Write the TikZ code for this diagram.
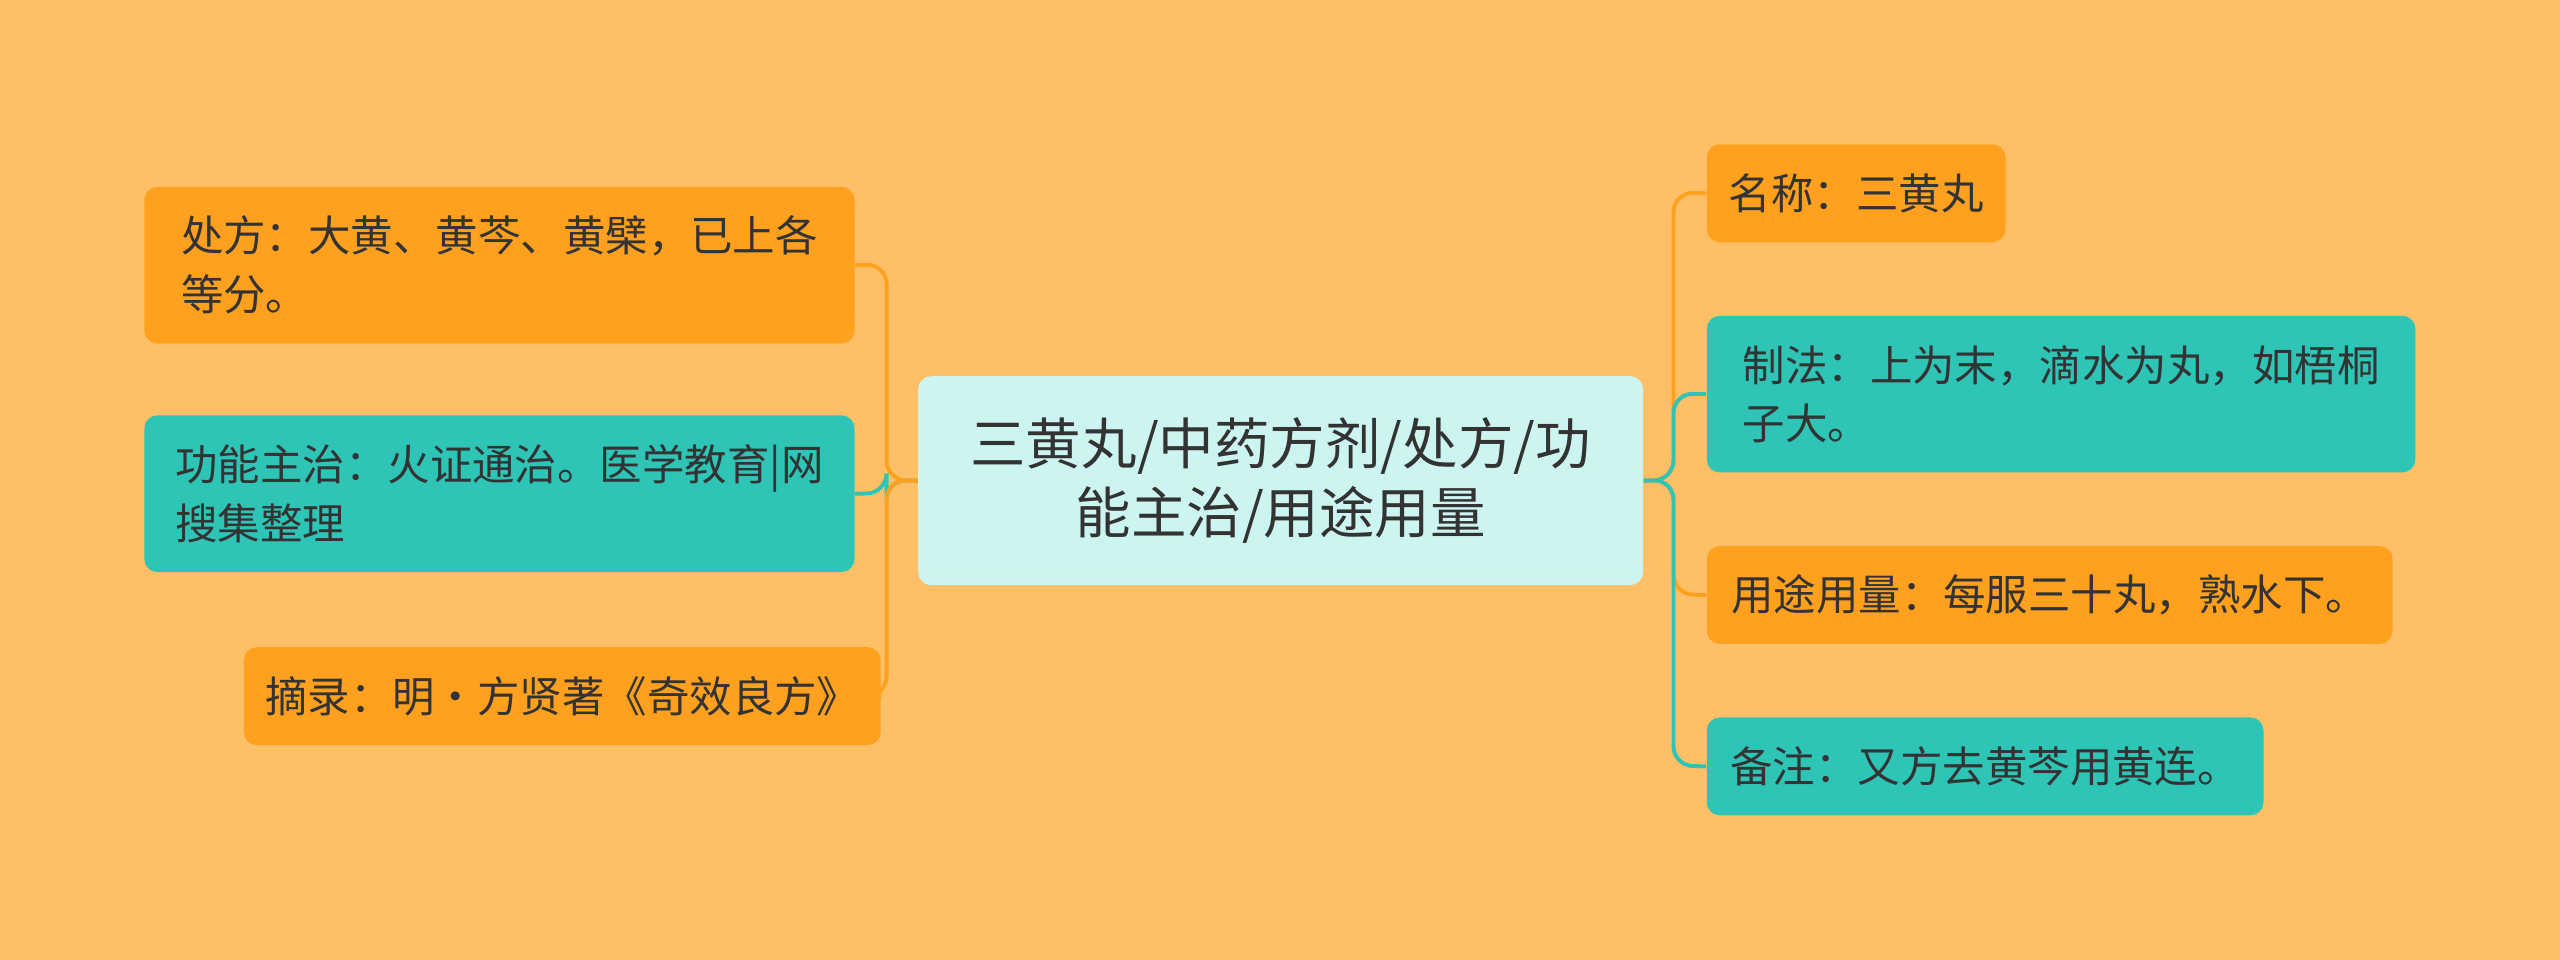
\documentclass[tikz,border=0pt]{standalone}
\usepackage{fontspec}
\setmainfont{Noto Sans CJK SC}
\definecolor{bg}{HTML}{FFBF66}
\definecolor{org}{HTML}{FFA11F}
\definecolor{tea}{HTML}{2EC4B6}
\definecolor{cen}{HTML}{CCF5F2}
\definecolor{txt}{HTML}{333333}
\begin{document}
\begin{tikzpicture}[x=0.5pt,y=-0.5pt,
  box/.style={anchor=north west,rounded corners=4pt,inner xsep=6.5pt,inner ysep=0pt,align=left,text=txt,font=\fontsize{13}{18}\selectfont},
  obox/.style={box,fill=org},
  tbox/.style={box,fill=tea},
  link/.style={line width=1.2pt,rounded corners=6pt}]
\fill[bg] (0,0) rectangle (1568,588);
\useasboundingbox (0,0) rectangle (1568,588);
\node[anchor=north west,fill=cen,rounded corners=4pt,minimum width=222pt,minimum height=64pt,align=center,text=txt,font=\fontsize{17}{21}\selectfont] (c) at (562,230) {三黄丸/中药方剂/处方/功\\能主治/用途用量};
\node[obox,minimum width=217.5pt,minimum height=48pt] (l1) at (88,114) {处方：大黄、黄芩、黄檗，已上各\\等分。};
\node[tbox,minimum width=217.5pt,minimum height=48pt] (l2) at (88,254) {功能主治：火证通治。医学教育|网\\搜集整理};
\node[obox,minimum width=187pt,minimum height=30pt] (l3) at (149,396) {摘录：明·方贤著《奇效良方》};
\node[obox,minimum width=91.5pt,minimum height=30pt] (r1) at (1045,88) {名称：三黄丸};
\node[tbox,minimum width=217pt,minimum height=48pt] (r2) at (1045,193) {制法：上为末，滴水为丸，如梧桐\\子大。};
\node[obox,minimum width=210pt,minimum height=30pt] (r3) at (1045,334) {用途用量：每服三十丸，熟水下。};
\node[tbox,minimum width=170.5pt,minimum height=30pt] (r4) at (1045,439) {备注：又方去黄芩用黄连。};
\draw[link,org] (c.west) -- (543,294) -- (543,162) -- (l1.east);
\draw[link,tea] (c.west) -- (543,294) -- (543,302) -- (l2.east);
\draw[link,org] (c.west) -- (543,294) -- (543,426) -- (l3.east);
\draw[link,org] (c.east) -- (1025,294) -- (1025,118) -- (r1.west);
\draw[link,tea] (c.east) -- (1025,294) -- (1025,241) -- (r2.west);
\draw[link,org] (c.east) -- (1025,294) -- (1025,364) -- (r3.west);
\draw[link,tea] (c.east) -- (1025,294) -- (1025,469) -- (r4.west);
\end{tikzpicture}
\end{document}
